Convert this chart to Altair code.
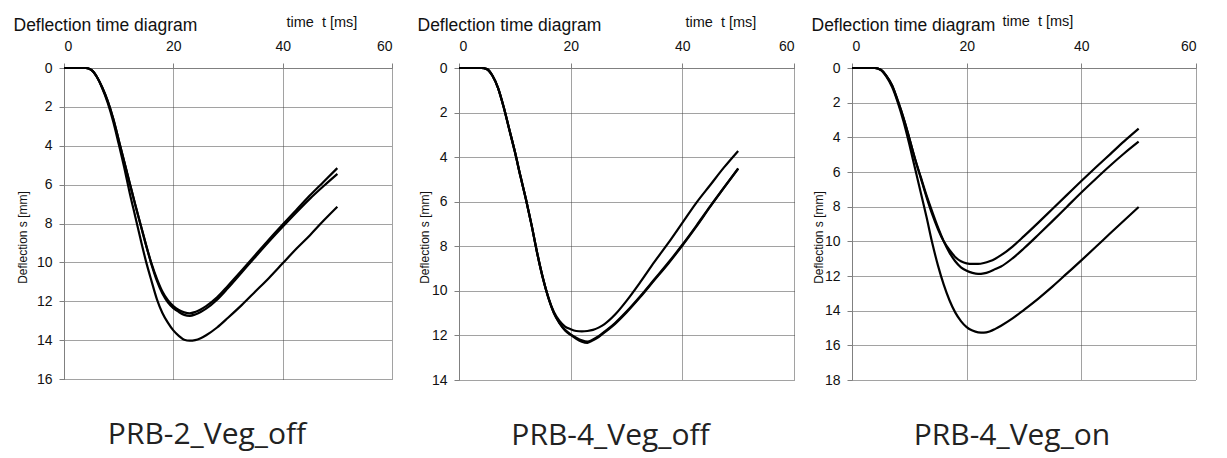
import altair as alt
import pandas as pd

# time axis shared by all curves [ms]
T = [0, 2, 4, 5, 6, 7, 8, 9, 10, 11, 12, 13, 14, 15, 16, 17, 18, 19, 20, 21, 22, 23,
     24, 25, 26, 28, 30, 32.5, 35, 37.5, 40, 42.5, 45, 47.5, 50]

# PRB-2_Veg_off deflections [mm]
P1_A = [0, 0, 0, 0.1, 0.45, 1.0, 1.7, 2.6, 3.7, 4.8, 5.9, 7.0, 8.05, 9.1, 10.05, 10.85, 11.5, 11.95,
        12.25, 12.45, 12.57, 12.62, 12.55, 12.42, 12.25, 11.8, 11.2, 10.42, 9.62, 8.82, 8.05, 7.3, 6.55, 5.85, 5.15]
P1_B = [0, 0, 0, 0.1, 0.45, 1.0, 1.7, 2.6, 3.7, 4.8, 5.9, 7.0, 8.05, 9.1, 10.1, 10.95, 11.6, 12.05,
        12.35, 12.55, 12.7, 12.75, 12.68, 12.55, 12.38, 11.92, 11.32, 10.52, 9.72, 8.93, 8.17, 7.43, 6.72, 6.07, 5.45]
P1_C = [0, 0, 0, 0.1, 0.45, 1.05, 1.8, 2.75, 3.9, 5.1, 6.4, 7.6, 8.8, 9.95, 10.95, 11.9, 12.6, 13.1,
        13.5, 13.78, 13.98, 14.03, 14.0, 13.9, 13.75, 13.35, 12.85, 12.2, 11.5, 10.8, 10.05, 9.3, 8.6, 7.85, 7.14]

# PRB-4_Veg_off deflections [mm]
P2_A = [0, 0, 0, 0.05, 0.35, 0.9, 1.75, 2.75, 3.75, 4.85, 5.9, 7.05, 8.3, 9.4, 10.3, 10.95, 11.35, 11.6,
        11.72, 11.8, 11.82, 11.8, 11.75, 11.65, 11.5, 11.05, 10.45, 9.6, 8.7, 7.85, 6.95, 6.05, 5.25, 4.45, 3.72]
P2_B = [0, 0, 0, 0.05, 0.35, 0.9, 1.75, 2.75, 3.75, 4.85, 5.9, 7.05, 8.3, 9.4, 10.3, 11.0, 11.45, 11.78,
        11.98, 12.15, 12.28, 12.33, 12.22, 12.07, 11.88, 11.47, 10.97, 10.27, 9.52, 8.77, 7.97, 7.12, 6.22, 5.36, 4.5]
P2_C = [0, 0, 0, 0.05, 0.35, 0.9, 1.75, 2.75, 3.75, 4.85, 5.9, 7.05, 8.3, 9.4, 10.3, 11.0, 11.45, 11.75,
        11.95, 12.1, 12.22, 12.28, 12.18, 12.03, 11.84, 11.43, 10.93, 10.23, 9.48, 8.73, 7.93, 7.08, 6.2, 5.35, 4.52]

# PRB-4_Veg_on deflections [mm]
P3_A = [0, 0, 0, 0.1, 0.45, 1.0, 1.9, 2.9, 4.05, 5.25, 6.35, 7.45, 8.45, 9.3, 10.0, 10.5, 10.9, 11.15,
        11.27, 11.3, 11.3, 11.25, 11.15, 11.0, 10.8, 10.3, 9.7, 8.92, 8.12, 7.32, 6.52, 5.74, 4.98, 4.22, 3.5]
P3_B = [0, 0, 0, 0.1, 0.45, 1.0, 1.9, 2.9, 4.05, 5.25, 6.3, 7.35, 8.3, 9.2, 10.0, 10.65, 11.15, 11.5,
        11.7, 11.82, 11.88, 11.85, 11.75, 11.6, 11.45, 10.98, 10.4, 9.62, 8.82, 8.0, 7.18, 6.4, 5.64, 4.92, 4.25]
P3_C = [0, 0, 0, 0.1, 0.5, 1.1, 2.0, 3.1, 4.4, 5.8, 7.2, 8.6, 10.1, 11.4, 12.5, 13.4, 14.1, 14.6,
        14.95, 15.15, 15.25, 15.27, 15.2, 15.05, 14.87, 14.45, 13.95, 13.3, 12.6, 11.85, 11.1, 10.33, 9.55, 8.78, 8.02]

PANELS = [
    {"name": "PRB-2_Veg_off", "series": {"a": P1_A, "b": P1_B, "c": P1_C}, "ymax": 16,
     "w": 328, "h": 311, "head_x": -51, "time_x": 222, "time_y": -42, "ytitle_x": -42, "dx": -21},
    {"name": "PRB-4_Veg_off", "series": {"a": P2_A, "b": P2_B, "c": P2_C}, "ymax": 14,
     "w": 335, "h": 312, "head_x": -42, "time_x": 226, "time_y": -42, "ytitle_x": -35, "dx": -16},
    {"name": "PRB-4_Veg_on", "series": {"a": P3_A, "b": P3_B, "c": P3_C}, "ymax": 18,
     "w": 344, "h": 312, "head_x": -41, "time_x": 150, "time_y": -43, "ytitle_x": -34, "dx": -12},
]

FONT = "Liberation Sans"
GRID = dict(grid=True, gridColor="#444444", gridDash=[1, 1], gridWidth=1)
AXIS_STYLE = dict(labelFont=FONT, titleFont=FONT, labelFontSize=14, labelColor="#111111",
                  titleColor="#111111", domainColor="#808080", tickColor="#808080", domainWidth=1)


def make_panel(p):
    rows = []
    for key, vals in p["series"].items():
        for t, s in zip(T, vals):
            rows.append({"t": t, "s": s, "series": key})
    df = pd.DataFrame(rows)

    xscale = alt.Scale(domain=[0, 60], nice=False)
    lines = alt.Chart(df).mark_line(color="black", strokeWidth=2.2, interpolate="monotone").encode(
        x=alt.X("t:Q", scale=xscale,
                axis=alt.Axis(orient="top", values=[0, 20, 40, 60], tickSize=5, labelPadding=10,
                              title="time\u00a0 t [ms]", titleX=p["time_x"], titleY=p["time_y"],
                              titleAlign="left", titleBaseline="alphabetic", titleFontSize=14.5,
                              titleFontWeight="normal", **GRID, **AXIS_STYLE)),
        y=alt.Y("s:Q", scale=alt.Scale(domain=[0, p["ymax"]], reverse=True, nice=False),
                axis=alt.Axis(values=list(range(0, p["ymax"] + 1, 2)), tickSize=5, labelPadding=7,
                              title="Deflection s [mm]", titleX=p["ytitle_x"], titleY=169,
                              titleAngle=270, titleAlign="center", titleBaseline="middle",
                              titleFontSize=12, titleFontWeight="normal", **GRID, **AXIS_STYLE)),
        detail="series:N",
    )
    head = alt.Chart(df).mark_rule(opacity=0).encode(
        x=alt.X("t:Q", scale=xscale,
                axis=alt.Axis(orient="top", labels=False, ticks=False, domain=False, grid=False,
                              title="Deflection time diagram", titleX=p["head_x"], titleY=-38,
                              titleAlign="left", titleBaseline="alphabetic", titleFontSize=17.5,
                              titleFontWeight="normal", titleFont=FONT, titleColor="#111111")),
    )
    return alt.layer(lines, head).resolve_axis(x="independent").properties(
        width=p["w"], height=p["h"],
        title=alt.TitleParams(p["name"], orient="bottom", anchor="middle", dx=p["dx"], offset=34,
                              font="Open Sans", fontSize=30, fontWeight="normal", color="#222222"),
    )


p1, p2, p3 = [make_panel(p) for p in PANELS]

chart = alt.hconcat(alt.hconcat(p1, p2, spacing=24), p3, spacing=16).properties(
    padding={"left": 5, "top": 5, "right": 0, "bottom": 12},
    background="white",
).configure_view(stroke=None)

chart.save("out.html", embed_options={"renderer": "svg", "actions": False})
